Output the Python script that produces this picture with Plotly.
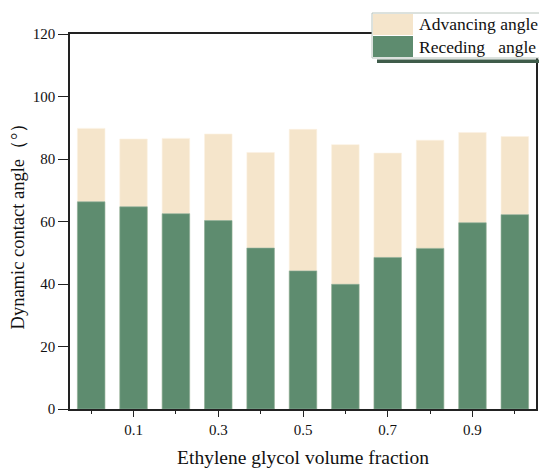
import plotly.graph_objects as go

fractions = [0.0, 0.1, 0.2, 0.3, 0.4, 0.5, 0.6, 0.7, 0.8, 0.9, 1.0]
advancing = [89.8, 86.4, 86.6, 88.0, 82.1, 89.5, 84.6, 81.9, 86.0, 88.5, 87.2]
receding = [66.3, 64.7, 62.5, 60.3, 51.5, 44.2, 39.9, 48.5, 51.4, 59.6, 62.2]
major_ticks = [0.1, 0.3, 0.5, 0.7, 0.9]
minor_ticks = [0.0, 0.2, 0.4, 0.6, 0.8, 1.0]
y_ticks = [0, 20, 40, 60, 80, 100, 120]

adv_color = "#F5E5CB"
rec_color = "#5E8C6F"
font_family = "Liberation Serif, Times New Roman, serif"

fig = go.Figure()
fig.add_trace(go.Bar(x=fractions, y=advancing, name="Advancing angle", width=0.065,
                     marker=dict(color=adv_color, line=dict(color="#FBF1E2", width=0.6)),
                     showlegend=False))
fig.add_trace(go.Bar(x=fractions, y=receding, name="Receding   angle", width=0.065,
                     marker=dict(color=rec_color, line=dict(color="#8FB09C", width=0.6)),
                     showlegend=False))

fig.update_layout(
    barmode="overlay",
    width=539, height=468,
    margin=dict(l=70, r=3, t=34, b=59),
    plot_bgcolor="white", paper_bgcolor="white",
    font=dict(family=font_family, size=15, color="#111"),
    xaxis=dict(range=[-0.05, 1.05], tickvals=major_ticks, ticktext=[str(v) for v in major_ticks],
               ticks="outside", ticklen=6, tickwidth=1.3, tickcolor="#222",
               minor=dict(tickvals=minor_ticks, ticks="outside", ticklen=3, tickwidth=1.3, tickcolor="#222"),
               showline=True, linecolor="#222", linewidth=1.5, mirror=True, showgrid=False, zeroline=False,
               automargin=False,
               title=dict(text="Ethylene glycol volume fraction", font=dict(size=19.5), standoff=18),
               tickfont=dict(size=15)),
    yaxis=dict(range=[0, 120], tickvals=y_ticks, ticks="outside", ticklen=10, tickwidth=1.3, tickcolor="#222",
               showline=True, linecolor="#222", linewidth=1.5, mirror=True, showgrid=False, zeroline=False,
               automargin=False,
               title=dict(text="Dynamic contact angle（°）", font=dict(size=18.5), standoff=3),
               tickfont=dict(size=15)),
)

# custom legend box
shapes = [
    dict(type="rect", xref="paper", yref="paper", layer="above",
         x0=(377-70)/466, x1=1.01, y0=(409-63)/375, y1=(409-59.5)/375,
         fillcolor="#3F5C4A", line=dict(width=0)),
    dict(type="rect", xref="paper", yref="paper", layer="above",
         x0=(372-70)/466, x1=1.01, y0=(409-58)/375, y1=(409-13)/375,
         fillcolor="white", line=dict(color="#B8C4BC", width=1)),
    dict(type="rect", xref="paper", yref="paper", layer="above",
         x0=(373-70)/466, x1=(413-70)/466, y0=(409-35)/375, y1=(409-14)/375,
         fillcolor=adv_color, line=dict(width=0)),
    dict(type="rect", xref="paper", yref="paper", layer="above",
         x0=(373-70)/466, x1=(413-70)/466, y0=(409-57)/375, y1=(409-36)/375,
         fillcolor=rec_color, line=dict(width=0)),
]
fig.update_layout(shapes=shapes)
fig.add_annotation(xref="paper", yref="paper", x=(417-70)/466, y=(409-24.5)/375, xanchor="left", yanchor="middle",
                   text="Advancing angle", showarrow=False, font=dict(size=17.5))
fig.add_annotation(xref="paper", yref="paper", x=(417-70)/466, y=(409-46.5)/375, xanchor="left", yanchor="middle",
                   text="Receding&nbsp;&nbsp; angle", showarrow=False, font=dict(size=17.5))

fig.write_html("out.html")
